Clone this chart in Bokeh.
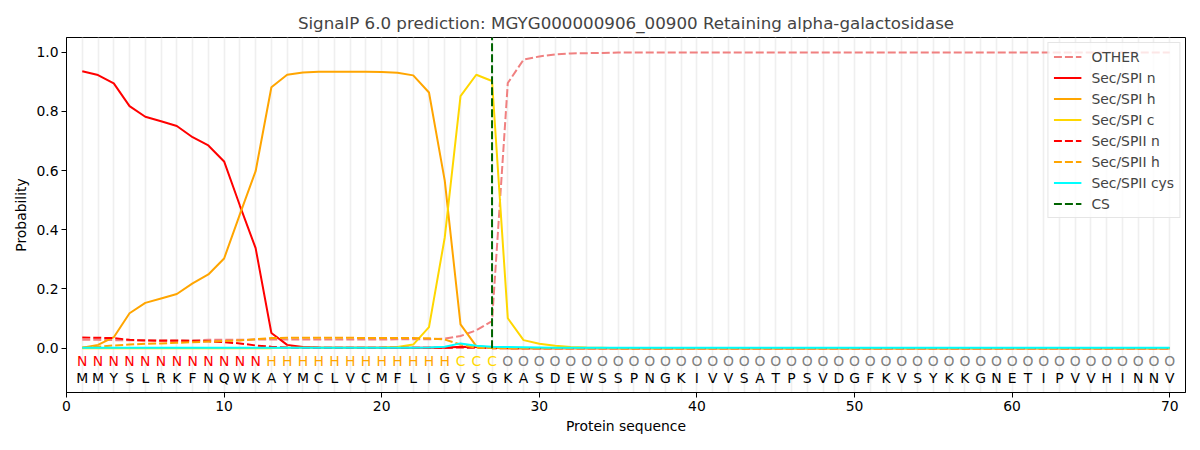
from bokeh.plotting import figure
from bokeh.models import Range1d, FixedTicker, PrintfTickFormatter, ColumnDataSource
from bokeh.embed import file_html
from bokeh.resources import INLINE
from bokeh.core.properties import value

# ---------------- data ----------------
title_text = "SignalP 6.0 prediction: MGYG000000906_00900 Retaining alpha-galactosidase"
sequence = list("MMYSLRKFNQWKAYMCLVCMFLIGVSGKASDEWSSPNGKIVVSATPSVDGFKVSYKKGNETIPVVHINNV")
region_labels = list("NNNNNNNNNNNN" "HHHHHHHHHHHH" "CCC" + "O" * 43)
positions = list(range(1, len(sequence) + 1))
cs_position = 27

other = [0.028, 0.028, 0.027, 0.027, 0.027, 0.027, 0.027, 0.027, 0.028, 0.028,
         0.028, 0.029, 0.029, 0.029, 0.029, 0.029, 0.029, 0.029, 0.029, 0.029,
         0.030, 0.030, 0.030, 0.032, 0.041, 0.060, 0.091, 0.896, 0.975, 0.986,
         0.993, 0.996, 0.997, 0.998, 0.999, 0.999, 0.999, 0.999, 0.999, 0.999,
         0.999, 0.999, 0.999, 0.999, 0.999, 0.999, 0.999, 0.999, 0.999, 0.999,
         0.999, 0.999, 0.999, 0.999, 0.999, 0.999, 0.999, 0.999, 0.999, 0.999,
         0.999, 0.999, 0.999, 0.999, 0.999, 0.999, 0.999, 0.999, 0.999, 0.999]

sec_spi_n = [0.936, 0.923, 0.895, 0.818, 0.782, 0.767, 0.751, 0.713, 0.685, 0.631,
             0.482, 0.338, 0.051, 0.011, 0.004, 0.002, 0.001, 0.001, 0.001, 0.001,
             0.001, 0.001, 0.001, 0.001, 0.005, 0.004, 0.001, 0.000, 0.000, 0.000,
             0.000, 0.000, 0.000, 0.000, 0.000, 0.000, 0.000, 0.000, 0.000, 0.000,
             0.000, 0.000, 0.000, 0.000, 0.000, 0.000, 0.000, 0.000, 0.000, 0.000,
             0.000, 0.000, 0.000, 0.000, 0.000, 0.000, 0.000, 0.000, 0.000, 0.000,
             0.000, 0.000, 0.000, 0.000, 0.000, 0.000, 0.000, 0.000, 0.000, 0.000]

sec_spi_h = [0.001, 0.011, 0.037, 0.118, 0.153, 0.168, 0.183, 0.219, 0.249, 0.303,
             0.452, 0.598, 0.882, 0.924, 0.932, 0.934, 0.934, 0.934, 0.934, 0.933,
             0.931, 0.922, 0.864, 0.566, 0.080, 0.007, 0.001, 0.000, 0.000, 0.000,
             0.000, 0.000, 0.000, 0.000, 0.000, 0.000, 0.000, 0.000, 0.000, 0.000,
             0.000, 0.000, 0.000, 0.000, 0.000, 0.000, 0.000, 0.000, 0.000, 0.000,
             0.000, 0.000, 0.000, 0.000, 0.000, 0.000, 0.000, 0.000, 0.000, 0.000,
             0.000, 0.000, 0.000, 0.000, 0.000, 0.000, 0.000, 0.000, 0.000, 0.000]

sec_spi_c = [0.000, 0.000, 0.000, 0.000, 0.000, 0.000, 0.000, 0.000, 0.000, 0.000,
             0.000, 0.000, 0.000, 0.001, 0.001, 0.001, 0.001, 0.001, 0.001, 0.002,
             0.004, 0.012, 0.071, 0.374, 0.852, 0.924, 0.903, 0.101, 0.027, 0.015,
             0.008, 0.004, 0.002, 0.001, 0.000, 0.000, 0.000, 0.000, 0.000, 0.000,
             0.000, 0.000, 0.000, 0.000, 0.000, 0.000, 0.000, 0.000, 0.000, 0.000,
             0.000, 0.000, 0.000, 0.000, 0.000, 0.000, 0.000, 0.000, 0.000, 0.000,
             0.000, 0.000, 0.000, 0.000, 0.000, 0.000, 0.000, 0.000, 0.000, 0.000]

sec_spii_n = [0.036, 0.035, 0.034, 0.028, 0.026, 0.025, 0.025, 0.024, 0.023, 0.020,
              0.016, 0.009, 0.005, 0.002, 0.001, 0.001, 0.001, 0.001, 0.001, 0.001,
              0.001, 0.001, 0.001, 0.001, 0.002, 0.001, 0.000, 0.000, 0.000, 0.000,
              0.000, 0.000, 0.000, 0.000, 0.000, 0.000, 0.000, 0.000, 0.000, 0.000,
              0.000, 0.000, 0.000, 0.000, 0.000, 0.000, 0.000, 0.000, 0.000, 0.000,
              0.000, 0.000, 0.000, 0.000, 0.000, 0.000, 0.000, 0.000, 0.000, 0.000,
              0.000, 0.000, 0.000, 0.000, 0.000, 0.000, 0.000, 0.000, 0.000, 0.000]

sec_spii_h = [0.002, 0.005, 0.009, 0.012, 0.015, 0.016, 0.018, 0.020, 0.022, 0.024,
              0.026, 0.030, 0.034, 0.035, 0.035, 0.035, 0.035, 0.035, 0.034, 0.034,
              0.034, 0.034, 0.033, 0.029, 0.012, 0.001, 0.000, 0.000, 0.000, 0.000,
              0.000, 0.000, 0.000, 0.000, 0.000, 0.000, 0.000, 0.000, 0.000, 0.000,
              0.000, 0.000, 0.000, 0.000, 0.000, 0.000, 0.000, 0.000, 0.000, 0.000,
              0.000, 0.000, 0.000, 0.000, 0.000, 0.000, 0.000, 0.000, 0.000, 0.000,
              0.000, 0.000, 0.000, 0.000, 0.000, 0.000, 0.000, 0.000, 0.000, 0.000]

sec_spii_cys = [0.001, 0.001, 0.001, 0.001, 0.001, 0.001, 0.001, 0.001, 0.001, 0.001,
                0.001, 0.001, 0.001, 0.001, 0.001, 0.001, 0.001, 0.001, 0.001, 0.001,
                0.001, 0.001, 0.002, 0.005, 0.016, 0.008, 0.005, 0.004, 0.003, 0.002,
                0.001, 0.001, 0.001, 0.001, 0.001, 0.001, 0.001, 0.001, 0.001, 0.001,
                0.001, 0.001, 0.001, 0.001, 0.001, 0.001, 0.001, 0.001, 0.001, 0.001,
                0.001, 0.001, 0.001, 0.001, 0.001, 0.001, 0.001, 0.001, 0.001, 0.001,
                0.001, 0.001, 0.001, 0.001, 0.001, 0.001, 0.001, 0.001, 0.001, 0.001]

x_ticks = [0, 10, 20, 30, 40, 50, 60, 70]
y_ticks = [0.0, 0.2, 0.4, 0.6, 0.8, 1.0]

# ---------------- styling ----------------
FONT = "DejaVu Sans"
FS = "13.9px"
Y_MIN, Y_MAX = -0.15, 1.05
label_colors = {"N": "red", "H": "orange", "C": "gold", "O": "gray"}

p = figure(width=1200, height=450, output_backend="svg", toolbar_location=None,
           x_range=Range1d(0, len(sequence) + 1), y_range=Range1d(Y_MIN, Y_MAX),
           title=title_text,
           min_border_left=66, min_border_right=15, min_border_top=37, min_border_bottom=58)

p.title.text_font = FONT
p.title.text_font_size = "16.7px"
p.title.text_font_style = "normal"
p.title.align = "center"
p.title.standoff = 9

p.outline_line_color = "black"
p.outline_line_alpha = 1.0
p.outline_line_width = 1

p.ygrid.visible = False
p.xgrid.ticker = FixedTicker(ticks=positions)
p.xgrid.grid_line_color = "#efefef"
p.xgrid.grid_line_width = 1.6

for ax in (p.xaxis[0], p.yaxis[0]):
    ax.axis_line_color = "black"
    ax.major_tick_line_color = "black"
    ax.major_tick_out = 5
    ax.major_tick_in = 0
    ax.minor_tick_line_color = None
    ax.major_label_text_font = FONT
    ax.major_label_text_font_size = FS
    ax.major_label_text_color = "black"
    ax.major_label_standoff = 3
    ax.axis_label_text_font = FONT
    ax.axis_label_text_font_size = FS
    ax.axis_label_text_font_style = "normal"
    ax.axis_label_text_color = "black"

p.xaxis.ticker = FixedTicker(ticks=x_ticks)
p.yaxis.ticker = FixedTicker(ticks=y_ticks)
p.yaxis.formatter = PrintfTickFormatter(format="%.1f")
p.xaxis.axis_label = "Protein sequence"
p.yaxis.axis_label = "Probability"
p.xaxis.axis_label_standoff = 4
p.yaxis.axis_label_standoff = 4

LW = 2.0
DASH = "8 3"
p.line(positions, other, color="lightcoral", line_width=LW, line_dash=DASH, legend_label="OTHER")
p.line(positions, sec_spi_n, color="red", line_width=LW, legend_label="Sec/SPI n")
p.line(positions, sec_spi_h, color="orange", line_width=LW, legend_label="Sec/SPI h")
p.line(positions, sec_spi_c, color="gold", line_width=LW, legend_label="Sec/SPI c")
p.line(positions, sec_spii_n, color="red", line_width=LW, line_dash=DASH, legend_label="Sec/SPII n")
p.line(positions, sec_spii_h, color="orange", line_width=LW, line_dash=DASH, legend_label="Sec/SPII h")
p.line(positions, sec_spii_cys, color="cyan", line_width=LW, legend_label="Sec/SPII cys")
p.line([cs_position, cs_position], [0, Y_MAX], color="darkgreen", line_width=LW, line_dash=DASH,
       legend_label="CS")

src = ColumnDataSource(dict(
    x=positions,
    seq=sequence,
    lab=region_labels,
    lab_color=[label_colors[c] for c in region_labels],
    y_lab=[-0.042] * len(positions),
    y_seq=[-0.100] * len(positions),
))
p.text(x="x", y="y_lab", text="lab", source=src, text_color="lab_color",
       text_align="center", text_baseline="middle", text_font=value(FONT), text_font_size=FS)
p.text(x="x", y="y_seq", text="seq", source=src, text_color="black",
       text_align="center", text_baseline="middle", text_font=value(FONT), text_font_size=FS)

lg = p.legend[0]
lg.location = "top_right"
lg.margin = 5
lg.padding = 5
lg.spacing = 4
lg.label_height = 17
lg.glyph_height = 17
lg.glyph_width = 28
lg.label_standoff = 10
lg.label_text_font = FONT
lg.label_text_font_size = FS
lg.border_line_color = "#cccccc"
lg.border_line_width = 1
lg.background_fill_alpha = 0.8

open("out.html", "w").write(file_html(p, INLINE))
